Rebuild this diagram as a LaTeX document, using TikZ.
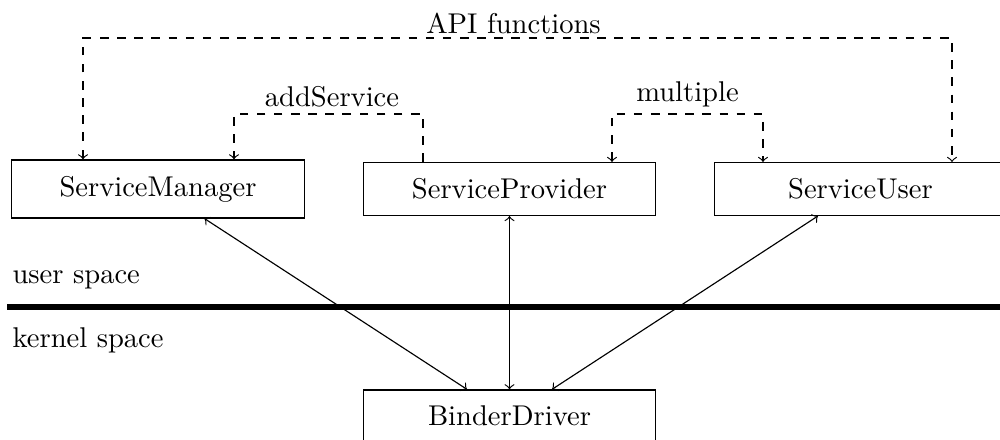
\documentclass[tikz,border=0pt]{standalone}
\begin{document}
\begin{tikzpicture}[x=0.35pt, y=-0.35pt,
  box/.style={draw, minimum width=102.4pt, inner ysep=5.6pt},
  link/.style={<->},
  call/.style={->, dashed},
  calls/.style={<->, dashed},
  lbl/.style={inner sep=0pt, anchor=base},
  barrier/.style={line width=2pt}]
\useasboundingbox (0,0) rectangle (1000,439);
\clip (0,0) rectangle (1000,439);

% components
\node[box] (sm) at (158,189) {ServiceManager};
\node[box] (sp) at (509.5,189) {ServiceProvider};
\node[box] (su) at (860.5,189) {ServiceUser};
\node[box] (bd) at (509.5,416) {BinderDriver};

% user / kernel boundary
\node[lbl, anchor=base west] (us) at (12,283) {user space};
\node[lbl, anchor=base west] (ks) at (12,347) {kernel space};
\coordinate (bl) at (7,307);
\coordinate (br) at (1010,307);
\draw[barrier] (bl) -- (br);

% API functions
\coordinate (apiL) at (83,38);
\coordinate (apiR) at (952,38);
\draw[calls] (apiL |- sm.north) -- (apiL) -- (apiR) -- (apiR |- su.north);
\node[lbl] (apilbl) at (513.5,33) {API functions};

% addService
\coordinate (addL) at (234,114);
\coordinate (addR) at (423,114);
\draw[call] (addR |- sp.north) -- (addR) -- (addL) -- (addL |- sm.north);
\node[lbl] (addlbl) at (332,106) {addService};

% multiple
\coordinate (mulL) at (612,114);
\coordinate (mulR) at (763,114);
\draw[calls] (mulL |- sp.north) -- (mulL) -- (mulR) -- (mulR |- su.north);
\node[lbl] (mullbl) at (687.5,101.7) {multiple};

% driver links
\coordinate (a1) at (204.5,0);
\coordinate (b1) at (467,0);
\coordinate (a3) at (818,0);
\coordinate (b3) at (552,0);
\draw[link] (a1 |- sm.south) -- (b1 |- bd.north);
\draw[link] (sp) -- (bd);
\draw[link] (a3 |- su.south) -- (b3 |- bd.north);
\end{tikzpicture}
\end{document}
